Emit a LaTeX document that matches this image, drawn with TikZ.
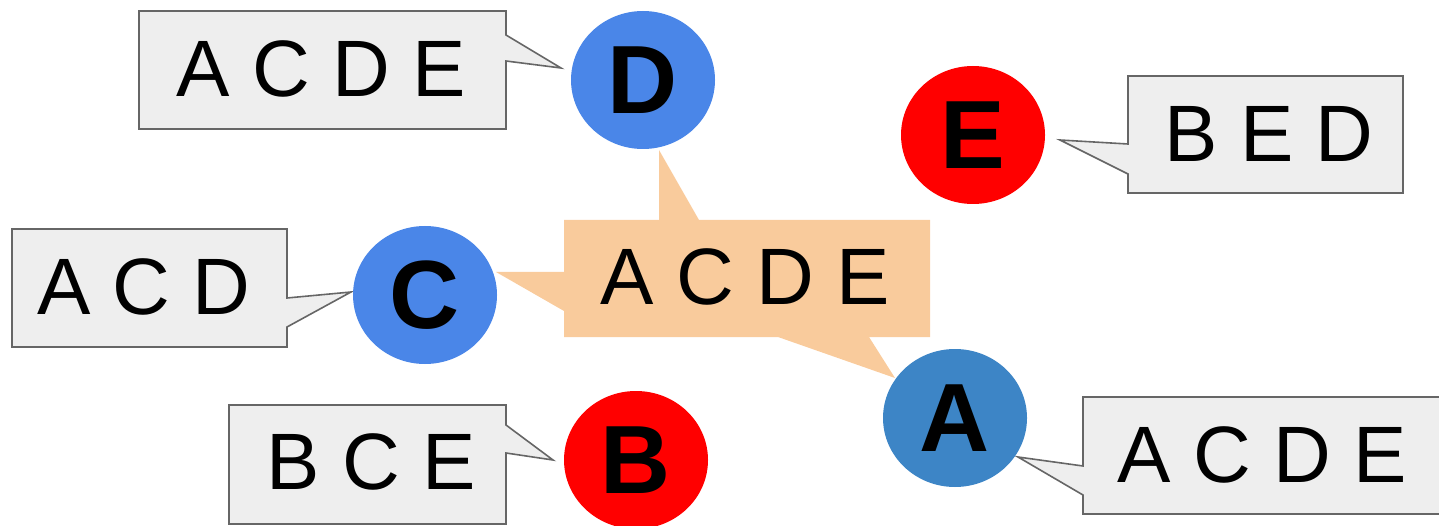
\documentclass[tikz,border=0pt]{standalone}
\usepackage{fontspec}
\setmainfont{Liberation Sans}
\usetikzlibrary{shapes.geometric}
\definecolor{bluec}{HTML}{4A86E8}
\definecolor{blueA}{HTML}{3D85C6}
\definecolor{redc}{HTML}{FF0000}
\definecolor{orangec}{HTML}{F9CB9C}
\definecolor{grayfill}{HTML}{EEEEEE}
\definecolor{graystroke}{HTML}{666666}
\begin{document}
\begin{tikzpicture}[x=1pt,y=-1pt,
  vertex/.style={ellipse, minimum width=144pt, minimum height=138pt, inner sep=0pt,
    font=\fontsize{97}{100}\selectfont\bfseries},
  bubble/.style={fill=grayfill, draw=graystroke, line width=1.6pt, line join=miter},
  bubbletext/.style={inner sep=0pt, font=\fontsize{80}{90}\selectfont},
  share/.style={fill=orangec}]
\useasboundingbox (0,0) rectangle (1439,526);

% gray callouts
\path[bubble] (139,11) -- (506,11) -- (506,35) -- (561,68) -- (506,61) -- (506,129) -- (139,129) -- cycle;
\path[bubble] (1128,76) -- (1403,76) -- (1403,193) -- (1128,193) -- (1128,174) -- (1060,140) -- (1128,144) -- cycle;
\path[bubble] (12,229) -- (287,229) -- (287,298) -- (351,292) -- (287,327) -- (287,347) -- (12,347) -- cycle;
\path[bubble] (229,405) -- (506,405) -- (506,425) -- (553,460) -- (506,453) -- (506,524) -- (229,524) -- cycle;
\path[bubble] (1083,397) -- (1446,397) -- (1446,514) -- (1083,514) -- (1083,495) -- (1018,457) -- (1083,466) -- cycle;

% shared orange callout
\path[share] (564,220) -- (659,220) -- (659,150) -- (699,220) -- (930,220) -- (930,337)
  -- (869,337) -- (895,378) -- (778,337) -- (564,337) -- (564,311) -- (496,272) -- (564,272) -- cycle;

% vertices
\node[vertex, fill=bluec] (D) at (643,80) {D};
\node[vertex, fill=redc] (E) at (973,135) {E};
\node[vertex, fill=bluec] (C) at (425,295) {C};
\node[vertex, fill=redc] (B) at (636,460) {B};
\node[vertex, fill=blueA] (A) at (955,418) {A};

% texts
\node[bubbletext] (tD) at (321,69) {A C D E};
\node[bubbletext] (tE) at (1269,134) {B E D};
\node[bubbletext] (tC) at (144,287) {A C D};
\node[bubbletext] (tB) at (371,462) {B C E};
\node[bubbletext] (tA) at (1262,455) {A C D E};
\node[bubbletext] (tS) at (745,277) {A C D E};
\end{tikzpicture}
\end{document}
